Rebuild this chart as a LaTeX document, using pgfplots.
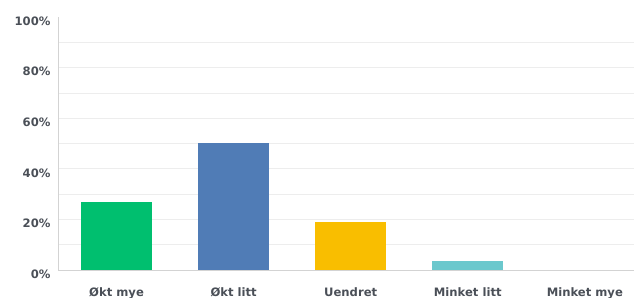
\documentclass[border=0pt]{standalone}
\usepackage{fontspec}
\setmainfont{DejaVu Sans}
\usepackage{pgfplots}
\pgfplotsset{compat=1.18}
\definecolor{cGreen}{HTML}{00BF6F}
\definecolor{cBlue}{HTML}{507CB6}
\definecolor{cYellow}{HTML}{F9BE00}
\definecolor{cTeal}{HTML}{6BC8CD}
\definecolor{txt}{HTML}{4A4F57}
\definecolor{gridc}{HTML}{EDEDED}
\definecolor{axc}{HTML}{D3D3D3}
\begin{document}
\begin{tikzpicture}
\begin{axis}[
  name=ax,
  scale only axis,
  width=576bp, height=253bp,
  xmin=-0.5, xmax=4.42,
  ymin=0, ymax=100,
  axis x line*=bottom, axis y line*=left,
  axis line style={draw=axc, line width=0.8pt, -},
  xtick={0,1,2,3,4},
  xticklabels={Økt mye, Økt litt, Uendret, Minket litt, Minket mye},
  ytick={0,20,40,60,80},
  minor ytick={10,30,50,70,90},
  extra y ticks={100},
  extra y tick style={grid=none},
  yticklabel={\pgfmathprintnumber{\tick}\%},
  extra y tick labels={100\%},
  ymajorgrids, yminorgrids,
  major grid style={draw=gridc, line width=0.8pt},
  minor grid style={draw=gridc, line width=0.8pt},
  major tick length=0pt, minor tick length=0pt,
  tick label style={font=\bfseries\fontsize{11.6bp}{13bp}\selectfont, text=txt},
  yticklabel style={xshift=-4bp, yshift=-4bp},
  xticklabel style={yshift=-14bp},
  /pgf/number format/assume math mode=true,
  bar width=71bp,
]
\addplot[ybar, fill=cGreen, draw=none] coordinates {(0,27)};
\addplot[ybar, fill=cBlue, draw=none] coordinates {(1,50)};
\addplot[ybar, fill=cYellow, draw=none] coordinates {(2,19)};
\addplot[ybar, fill=cTeal, draw=none] coordinates {(3,3.5)};
\addplot[ybar, fill=cTeal, draw=none] coordinates {(4,0)};
\end{axis}
\pgfresetboundingbox
\path[use as bounding box] ([shift={(-58bp,-28bp)}]ax.south west) rectangle ([shift={(0bp,17bp)}]ax.north east);
\end{tikzpicture}
\end{document}
